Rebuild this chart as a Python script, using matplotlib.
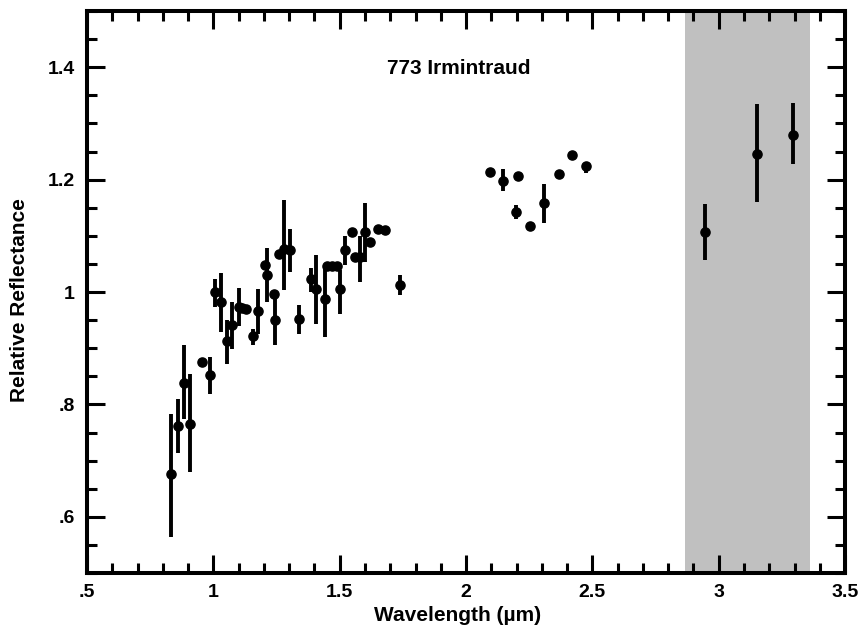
import matplotlib.pyplot as plt
import numpy as np
from matplotlib.ticker import FuncFormatter, MultipleLocator

# Spectrum of 773 Irmintraud: wavelength (um), reflectance, error bar ends
wavelength = [
    0.832, 0.860, 0.882, 0.906, 0.955, 0.985, 1.008, 1.030, 1.055, 1.075,
    1.100, 1.115, 1.130, 1.155, 1.175, 1.205, 1.212, 1.240, 1.243, 1.260,
    1.280, 1.305, 1.340, 1.385, 1.405, 1.440, 1.450, 1.470, 1.490, 1.500,
    1.520, 1.550, 1.560, 1.580, 1.600, 1.620, 1.650, 1.680, 1.740,
    2.094, 2.147, 2.205, 2.198, 2.252, 2.307, 2.366, 2.421, 2.474,
    2.946, 3.150, 3.296,
]
reflectance = [
    0.676, 0.762, 0.839, 0.766, 0.875, 0.852, 1.000, 0.982, 0.912, 0.942,
    0.973, 0.972, 0.970, 0.921, 0.967, 1.048, 1.030, 0.997, 0.950, 1.068,
    1.077, 1.074, 0.952, 1.024, 1.006, 0.988, 1.047, 1.047, 1.047, 1.006,
    1.074, 1.107, 1.062, 1.062, 1.107, 1.089, 1.112, 1.110, 1.012,
    1.213, 1.198, 1.207, 1.143, 1.117, 1.159, 1.210, 1.244, 1.224,
    1.107, 1.246, 1.279,
]
bar_low = [
    0.564, 0.713, 0.774, 0.680, 0.875, 0.818, 0.973, 0.929, 0.872, 0.899,
    0.940, 0.972, 0.970, 0.905, 0.925, 1.048, 0.982, 0.997, 0.905, 1.068,
    1.003, 1.036, 0.926, 1.000, 0.943, 0.920, 1.047, 1.047, 1.047, 0.961,
    1.048, 1.107, 1.062, 1.018, 1.054, 1.089, 1.112, 1.110, 0.994,
    1.213, 1.180, 1.207, 1.130, 1.110, 1.122, 1.210, 1.244, 1.211,
    1.057, 1.161, 1.227,
]
bar_high = [
    0.783, 0.810, 0.905, 0.854, 0.875, 0.884, 1.024, 1.033, 0.950, 0.982,
    1.007, 0.972, 0.970, 0.934, 1.006, 1.048, 1.079, 0.997, 0.996, 1.068,
    1.164, 1.113, 0.977, 1.042, 1.065, 1.048, 1.047, 1.047, 1.047, 1.039,
    1.100, 1.107, 1.062, 1.100, 1.158, 1.089, 1.112, 1.110, 1.030,
    1.213, 1.219, 1.207, 1.155, 1.125, 1.193, 1.210, 1.244, 1.232,
    1.157, 1.334, 1.336,
]

# telluric water band region shaded grey
band_start, band_end = 2.865, 3.36

x = np.array(wavelength)
y = np.array(reflectance)
yerr = np.vstack([y - np.array(bar_low), np.array(bar_high) - y])

plt.rcParams["font.family"] = ["Liberation Sans", "DejaVu Sans"]
plt.rcParams["font.weight"] = "bold"

fig = plt.figure(figsize=(8.66, 6.36), dpi=100)
ax = fig.add_axes([0.1005, 0.099, 0.8753, 0.8837])

ax.axvspan(band_start, band_end, color="#c0c0c0", lw=0, zorder=0)
ax.errorbar(x, y, yerr=yerr, fmt="o", color="black", ms=6.6,
            elinewidth=2.8, capsize=0, zorder=3)

ax.text(1.97, 1.397, "773 Irmintraud", ha="center", va="center",
        fontsize=15, fontweight="bold")

ax.set_xlim(0.5, 3.5)
ax.set_ylim(0.5, 1.5)
ax.xaxis.set_major_locator(MultipleLocator(0.5))
ax.xaxis.set_minor_locator(MultipleLocator(0.1))
ax.set_yticks([0.6, 0.8, 1.0, 1.2, 1.4])
ax.yaxis.set_minor_locator(MultipleLocator(0.05))


def strip_zero(v, _):
    s = f"{v:g}"
    return s[1:] if s.startswith("0.") else s


ax.xaxis.set_major_formatter(FuncFormatter(strip_zero))
ax.yaxis.set_major_formatter(FuncFormatter(strip_zero))

ax.tick_params(which="both", direction="in", top=True, right=True,
               width=2.2, labelsize=14)
ax.tick_params(which="major", length=13)
ax.tick_params(which="minor", length=7)
ax.tick_params(axis="x", pad=8)
ax.tick_params(axis="y", pad=9)
for lab in ax.get_xticklabels() + ax.get_yticklabels():
    lab.set_fontweight("bold")
for sp in ax.spines.values():
    sp.set_linewidth(2.9)

ax.set_xlabel("Wavelength (µm)", fontsize=15, fontweight="bold")
ax.set_ylabel("Relative Reflectance", fontsize=15, fontweight="bold")
ax.xaxis.set_label_coords(0.489, -0.058)
ax.yaxis.set_label_coords(-0.076, 0.485)

fig.savefig("out.png", dpi=100)
